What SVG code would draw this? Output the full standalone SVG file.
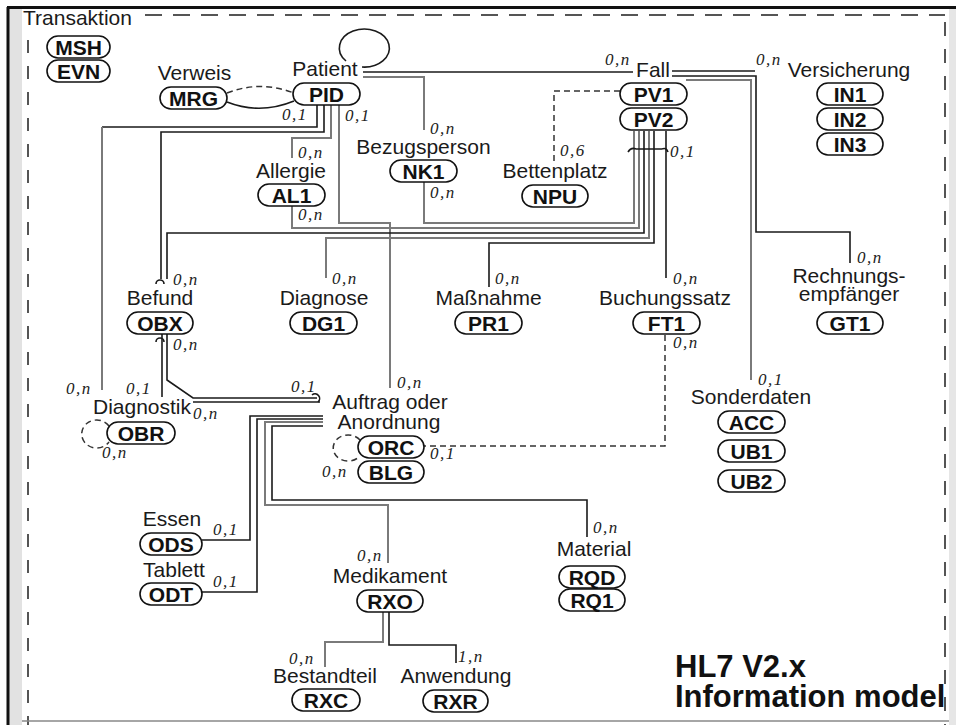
<svg xmlns="http://www.w3.org/2000/svg" width="956" height="725" viewBox="0 0 956 725">
<style>
.t{font-family:"Liberation Sans",Arial,sans-serif;font-size:21px;fill:#1a1a1a;text-anchor:middle}
.ts{font-family:"Liberation Sans",Arial,sans-serif;font-size:21px;fill:#1a1a1a}
.b{font-family:"Liberation Sans",Arial,sans-serif;font-size:21px;font-weight:bold;fill:#111;text-anchor:middle}
.c{font-family:"Liberation Serif","Times New Roman",serif;font-style:italic;font-size:17px;letter-spacing:1.5px;fill:#222}
.ov{fill:#fff;stroke:#111;stroke-width:1.6}
.ln{fill:none;stroke:#1a1a1a;stroke-width:1.6}
.lg{fill:none;stroke:#7a7a7a;stroke-width:2}
.ds{fill:none;stroke:#333;stroke-width:1.5;stroke-dasharray:6 4}
.fr{fill:none;stroke:#555;stroke-width:2}
.hl{font-family:"Liberation Sans",Arial,sans-serif;font-size:31px;font-weight:bold;fill:#111}
</style>
<rect x="0" y="0" width="956" height="725" fill="#fff"/>
<g id="frame">
<rect x="9" y="8" width="13" height="717" fill="#e2e2e2"/>
<rect x="949" y="8" width="7" height="717" fill="#e6e6e6"/>
<line x1="7" y1="7.5" x2="956" y2="7.5" stroke="#111" stroke-width="3"/>
<line x1="8" y1="7" x2="8" y2="725" stroke="#111" stroke-width="3"/>
<line x1="145" y1="15" x2="945" y2="15" class="fr" stroke-dasharray="17 11"/>
<line x1="28" y1="40" x2="28" y2="725" class="fr" stroke-dasharray="13 13"/>
<line x1="945" y1="22" x2="945" y2="725" class="fr" stroke-dasharray="14 13"/>
<line x1="22" y1="721" x2="949" y2="721" stroke="#888" stroke-width="1.5"/>
</g>
<g id="connectors">
<path class="ds" d="M227 93 Q260 80 294 93"/>
<path class="ln" d="M227 102 Q260 115 294 101"/>
<path class="ln" d="M346 61 A25 19 0 1 1 362 67"/>
<path class="ln" d="M363 72 H633"/>
<path class="lg" d="M363 77 H424 V130"/>
<path class="lg" d="M424 182 V223 H634 V131"/>
<path class="ln" d="M317 105 V127 H102"/>
<path class="lg" d="M102 127 V390"/>
<path class="ln" d="M324 105 V132 H161 V279"/>
<path class="lg" d="M331 105 V138 H292 V158"/>
<path class="lg" d="M339 105 V223 H390 V388"/>
<path class="lg" d="M292 206 V228 H639 V131"/>
<path class="ln" d="M167 279 V233 H644 V131"/>
<path class="lg" d="M326 278 V238 H649 V131"/>
<path class="ln" d="M489 287 V243 H654 V131"/>
<path class="ln" d="M666 278 V131"/>
<path class="ds" d="M620 91 H554 V163"/>
<path class="ln" d="M672 71 H755"/>
<path class="ln" d="M672 76 H756 V232 H850 V263"/>
<path class="lg" d="M686 80 H751 V380"/>
<path class="ds" d="M665 335 V446 H424"/>
<path class="ln" d="M167 334 V380 L193 398 H317"/>
<path class="ln" d="M162 334 V397"/>
<path class="ln" d="M193 402 H320"/>
<path class="ln" d="M323 416 H250 V540 H202"/>
<path class="ln" d="M323 419 H257 V592 H202"/>
<path class="lg" d="M323 422 H265 V505 H388 V563"/>
<path class="ln" d="M323 426 H272 V500 H587 V537"/>
<path class="lg" d="M383 612 V642 H325 V667"/>
<path class="ln" d="M389 612 V645 H456 V663"/>
<path class="ds" d="M109 426 A15 14 0 1 0 109 442"/>
<path class="ds" d="M360 440 A15 13 0 1 0 360 456"/>
<path class="ln" d="M156 284 a4 4 0 0 1 8 0"/>
<path class="ln" d="M156 342 a4 4 0 0 1 8 0"/>
<path class="ln" d="M312 395 a4 4 0 0 1 6 7"/>
<path class="ln" d="M628 152 q3 -5 8 -3 M662 149 q4 -2 6 3 M636 149 H662"/>
</g>
<g id="transaktion">
<text class="ts" x="23" y="25">Transaktion</text>
<rect class="ov" x="47" y="36" width="63" height="22" rx="11"/><text class="b" x="78.5" y="54.5">MSH</text>
<rect class="ov" x="47" y="60" width="63" height="22" rx="11"/><text class="b" x="78.5" y="78.5">EVN</text>
</g>
<g id="verweis">
<text class="t" x="194.5" y="80">Verweis</text>
<rect class="ov" x="160" y="87" width="67" height="22" rx="11"/><text class="b" x="193.5" y="105.5">MRG</text>
</g>
<g id="patient">
<text class="t" x="325" y="76">Patient</text>
<rect class="ov" x="293" y="83" width="67" height="22" rx="11"/><text class="b" x="326.5" y="101.5">PID</text>
</g>
<g id="allergie">
<text class="t" x="291" y="178">Allergie</text>
<rect class="ov" x="258" y="184" width="67" height="22" rx="11"/><text class="b" x="291.5" y="202.5">AL1</text>
</g>
<g id="bezugsperson">
<text class="t" x="423.5" y="154">Bezugsperson</text>
<rect class="ov" x="390" y="160" width="67" height="22" rx="11"/><text class="b" x="423.5" y="178.5">NK1</text>
</g>
<g id="bettenplatz">
<text class="t" x="555" y="178">Bettenplatz</text>
<rect class="ov" x="522" y="185" width="66" height="22" rx="11"/><text class="b" x="555" y="203.5">NPU</text>
</g>
<g id="fall">
<text class="t" x="653" y="77">Fall</text>
<rect class="ov" x="620" y="83" width="67" height="22" rx="11"/><text class="b" x="653.5" y="101.5">PV1</text>
<rect class="ov" x="620" y="108" width="67" height="22" rx="11"/><text class="b" x="653.5" y="126.5">PV2</text>
</g>
<g id="versicherung">
<text class="t" x="849" y="77">Versicherung</text>
<rect class="ov" x="817" y="83" width="66" height="22" rx="11"/><text class="b" x="850" y="101.5">IN1</text>
<rect class="ov" x="817" y="108" width="66" height="22" rx="11"/><text class="b" x="850" y="126.5">IN2</text>
<rect class="ov" x="817" y="133" width="66" height="22" rx="11"/><text class="b" x="850" y="151.5">IN3</text>
</g>
<g id="befund">
<text class="t" x="160" y="305">Befund</text>
<rect class="ov" x="127" y="312" width="66" height="22" rx="11"/><text class="b" x="160" y="330.5">OBX</text>
</g>
<g id="diagnose">
<text class="t" x="324" y="305">Diagnose</text>
<rect class="ov" x="290" y="312" width="67" height="22" rx="11"/><text class="b" x="323.5" y="330.5">DG1</text>
</g>
<g id="massnahme">
<text class="t" x="488.5" y="305">Maßnahme</text>
<rect class="ov" x="455" y="312" width="67" height="22" rx="11"/><text class="b" x="488.5" y="330.5">PR1</text>
</g>
<g id="buchungssatz">
<text class="t" x="665" y="305">Buchungssatz</text>
<rect class="ov" x="633" y="312" width="67" height="22" rx="11"/><text class="b" x="666.5" y="330.5">FT1</text>
</g>
<g id="rechnungsempfaenger">
<text class="t" x="849" y="283">Rechnungs-</text>
<text class="t" x="849" y="301">empfänger</text>
<rect class="ov" x="817" y="312" width="66" height="22" rx="11"/><text class="b" x="850" y="330.5">GT1</text>
</g>
<g id="diagnostik">
<text class="t" x="142" y="414">Diagnostik</text>
<rect class="ov" x="107" y="422" width="68" height="22" rx="11"/><text class="b" x="141" y="440.5">OBR</text>
</g>
<g id="auftrag">
<text class="t" x="390" y="409">Auftrag oder</text>
<text class="t" x="389" y="429">Anordnung</text>
<rect class="ov" x="358" y="436" width="66" height="22" rx="11"/><text class="b" x="391" y="454.5">ORC</text>
<rect class="ov" x="358" y="461" width="66" height="22" rx="11"/><text class="b" x="391" y="479.5">BLG</text>
</g>
<g id="sonderdaten">
<text class="t" x="751" y="404">Sonderdaten</text>
<rect class="ov" x="718" y="411" width="67" height="22" rx="11"/><text class="b" x="751.5" y="429.5">ACC</text>
<rect class="ov" x="718" y="440" width="67" height="22" rx="11"/><text class="b" x="751.5" y="458.5">UB1</text>
<rect class="ov" x="718" y="470" width="67" height="22" rx="11"/><text class="b" x="751.5" y="488.5">UB2</text>
</g>
<g id="essen">
<text class="t" x="172" y="526">Essen</text>
<rect class="ov" x="140" y="533" width="62" height="22" rx="11"/><text class="b" x="171" y="551.5">ODS</text>
</g>
<g id="tablett">
<text class="t" x="174" y="577">Tablett</text>
<rect class="ov" x="140" y="583" width="62" height="22" rx="11"/><text class="b" x="171" y="601.5">ODT</text>
</g>
<g id="medikament">
<text class="t" x="390" y="583">Medikament</text>
<rect class="ov" x="357" y="590" width="66" height="22" rx="11"/><text class="b" x="390" y="608.5">RXO</text>
</g>
<g id="material">
<text class="t" x="594" y="556">Material</text>
<rect class="ov" x="559" y="566" width="66" height="22" rx="11"/><text class="b" x="592" y="584.5">RQD</text>
<rect class="ov" x="559" y="589" width="66" height="22" rx="11"/><text class="b" x="592" y="607.5">RQ1</text>
</g>
<g id="bestandteil">
<text class="t" x="325" y="683">Bestandteil</text>
<rect class="ov" x="292" y="689" width="68" height="22" rx="11"/><text class="b" x="326" y="707.5">RXC</text>
</g>
<g id="anwendung">
<text class="t" x="456" y="683">Anwendung</text>
<rect class="ov" x="423" y="690" width="65" height="22" rx="11"/><text class="b" x="455.5" y="708.5">RXR</text>
</g>
<g id="cardinalities">
<text class="c" x="282" y="120">0,1</text>
<text class="c" x="345" y="121">0,1</text>
<text class="c" x="605" y="65">0,n</text>
<text class="c" x="756" y="65">0,n</text>
<text class="c" x="298" y="158">0,n</text>
<text class="c" x="298" y="220">0,n</text>
<text class="c" x="430" y="134">0,n</text>
<text class="c" x="430" y="198">0,n</text>
<text class="c" x="560" y="156">0,6</text>
<text class="c" x="670" y="157">0,1</text>
<text class="c" x="173" y="285">0,n</text>
<text class="c" x="173" y="350">0,n</text>
<text class="c" x="332" y="284">0,n</text>
<text class="c" x="495" y="284">0,n</text>
<text class="c" x="673" y="284">0,n</text>
<text class="c" x="673" y="348">0,n</text>
<text class="c" x="857" y="263">0,n</text>
<text class="c" x="758" y="385">0,1</text>
<text class="c" x="66" y="394">0,n</text>
<text class="c" x="126" y="394">0,1</text>
<text class="c" x="193" y="419">0,n</text>
<text class="c" x="102" y="458">0,n</text>
<text class="c" x="291" y="392">0,1</text>
<text class="c" x="397" y="388">0,n</text>
<text class="c" x="430" y="459">0,1</text>
<text class="c" x="322" y="477">0,n</text>
<text class="c" x="213" y="535">0,1</text>
<text class="c" x="213" y="587">0,1</text>
<text class="c" x="357" y="561">0,n</text>
<text class="c" x="593" y="533">0,n</text>
<text class="c" x="289" y="664">0,n</text>
<text class="c" x="458" y="662">1,n</text>
</g>
<g id="title">
<text class="hl" x="675" y="677">HL7 V2.x</text>
<text class="hl" x="675" y="707">Information model</text>
</g>
</svg>
